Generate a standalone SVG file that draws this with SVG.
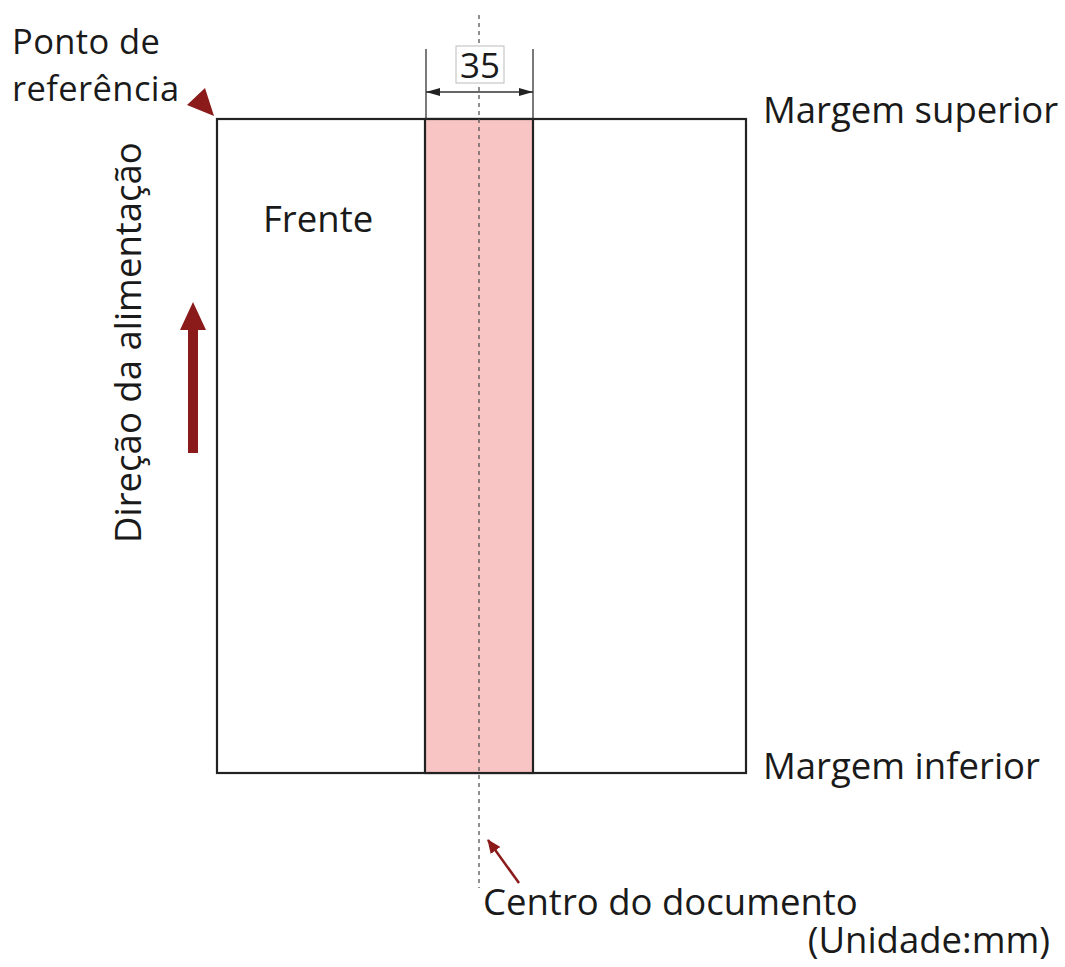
<svg xmlns="http://www.w3.org/2000/svg" width="1065" height="967" viewBox="0 0 1065 967">
<style>
text{font-family:"Open Sans","Noto Sans","DejaVu Sans",sans-serif;fill:#1a1a1a;font-size:36.5px}
.ref{font-size:34.5px;letter-spacing:0.4px}
.ln{stroke:#222;stroke-width:2.2;fill:none}
.thin{stroke:#333;stroke-width:1.3;fill:none}
.dash{stroke:#555;stroke-width:1.3;stroke-dasharray:4 4;fill:none}
</style>
<defs>
<marker id="ah" viewBox="0 0 14 8" refX="14" refY="4" markerWidth="14" markerHeight="8" markerUnits="userSpaceOnUse" orient="auto-start-reverse">
<path d="M0,0 L14,4 L0,8 Z" fill="#222"/>
</marker>
<marker id="rh" viewBox="0 0 14 12" refX="13" refY="6" markerWidth="14" markerHeight="12" markerUnits="userSpaceOnUse" orient="auto">
<path d="M0,0 L14,6 L0,12 Z" fill="#8b1a1a"/>
</marker>
</defs>
<rect width="1065" height="967" fill="#fff"/>
<g id="page">
<rect x="217" y="119" width="529" height="654" class="ln" fill="#fff"/>
</g>
<g id="band">
<rect x="425" y="119" width="108" height="654" fill="#f8c4c4" stroke="#222" stroke-width="2.2"/>
</g>
<g id="connectors">
<line x1="479" y1="15" x2="479" y2="888" class="dash"/>
<line x1="426" y1="49" x2="426" y2="119" class="thin"/>
<line x1="533" y1="49" x2="533" y2="119" class="thin"/>
<line x1="426" y1="92" x2="533" y2="92" class="thin" marker-start="url(#ah)" marker-end="url(#ah)"/>
<line x1="519" y1="883" x2="488" y2="840" stroke="#8b1a1a" stroke-width="2.5" marker-end="url(#rh)"/>
<polygon points="187,105 205,88 214,116" fill="#8b1a1a"/>
<polygon points="188,453 198,453 198,330 206,330 193,302 180,330 188,330" fill="#8b1a1a"/>
</g>
<g id="dim-label">
<rect x="456" y="46" width="48" height="37" fill="#fff" stroke="#bbb" stroke-width="1"/>
<text x="480" y="78" text-anchor="middle" style="font-size:35px">35</text>
</g>
<g id="labels">
<text class="ref" x="12" y="54">Ponto de</text>
<text class="ref" x="12" y="101">referência</text>
<text x="763" y="123">Margem superior</text>
<text x="763" y="779">Margem inferior</text>
<text x="263" y="232">Frente</text>
<text x="483" y="915">Centro do documento</text>
<text x="1050" y="953" text-anchor="end">(Unidade:mm)</text>
<text transform="translate(141,543) rotate(-90)">Direção da alimentação</text>
</g>
</svg>
